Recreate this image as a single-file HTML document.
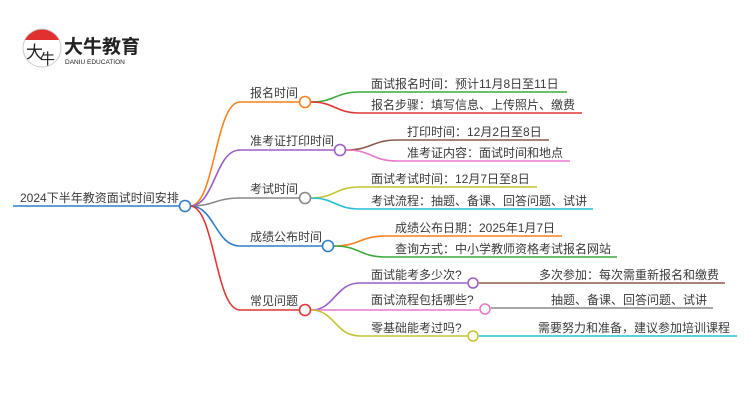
<!DOCTYPE html>
<html><head><meta charset="utf-8"><style>
html,body{margin:0;padding:0;background:#fff;}
svg{display:block;}
text{font-family:"Liberation Sans","Noto Sans CJK SC",sans-serif;fill:#3a3a3a;font-size:12px;}
</style></head><body>
<svg width="750" height="410" viewBox="0 0 750 410" xmlns="http://www.w3.org/2000/svg">
<circle cx="42" cy="48" r="19" fill="#fff" stroke="#ccc" stroke-width="1"/>
<path d="M25,40 A19,19 0 0 1 59,40 Z" fill="#e03030"/>
<text x="26" y="58" style="font-size:17px;fill:#222">大</text>
<text x="40" y="64" style="font-size:15px;fill:#222">牛</text>
<text x="64" y="53" style="font-size:19px;font-weight:bold;fill:#222">大牛教育</text>
<text x="65" y="64" style="font-size:6.5px;fill:#222">DANIU EDUCATION</text>

<g fill="none" stroke-width="1.6">
<line x1="13" y1="206" x2="180" y2="206" stroke="#2f7fc8"/>
<path d="M190,206 C215,206 215,102 240,102 L299,102" stroke="#f5821f"/>
<path d="M190,206 C215,206 215,150 240,150 L334,150" stroke="#9b5fc8"/>
<path d="M190,206 C215,206 215,198 240,198 L299,198" stroke="#888"/>
<path d="M190,206 C215,206 215,246 240,246 L322,246" stroke="#2f7fc8"/>
<path d="M190,206 C215,206 215,310 240,310 L299,310" stroke="#e03535"/>
<path d="M311,102 C335,102 335,92 360,92 L567,92" stroke="#3aab3a"/>
<path d="M311,102 C335,102 335,113 360,113 L582,113" stroke="#e03535"/>
<path d="M346,150 C372,150 372,140 397,140 L549,140" stroke="#8b5a4a"/>
<path d="M346,150 C372,150 372,161 397,161 L570,161" stroke="#e878c8"/>
<path d="M311,198 C335,198 335,187 360,187 L537,187" stroke="#c2c232"/>
<path d="M311,198 C335,198 335,209 360,209 L593,209" stroke="#22c0d8"/>
<path d="M334,246 C360,246 360,236 385,236 L562,236" stroke="#f5821f"/>
<path d="M334,246 C360,246 360,257 385,257 L617,257" stroke="#3aab3a"/>
<path d="M311,310 C335,310 335,283 360,283 L467,283" stroke="#9b5fc8"/>
<path d="M311,310 L479,310" stroke="#e878c8"/>
<path d="M311,310 C335,310 335,336 360,336 L467,336" stroke="#c2c232"/>
<line x1="479" y1="283" x2="725" y2="283" stroke="#8b5a4a"/>
<line x1="491" y1="308" x2="713" y2="308" stroke="#888"/>
<line x1="479" y1="336" x2="737" y2="336" stroke="#22c0d8"/>
</g>
<g fill="#fff" stroke-width="1.6">
<circle cx="185" cy="206" r="5.5" stroke="#2f7fc8"/>
<circle cx="305" cy="102" r="5.5" stroke="#f5821f"/>
<circle cx="340" cy="150" r="5.5" stroke="#9b5fc8"/>
<circle cx="305" cy="198" r="5.5" stroke="#888"/>
<circle cx="328" cy="246" r="5.5" stroke="#2f7fc8"/>
<circle cx="305" cy="310" r="5.5" stroke="#e03535"/>
<circle cx="473" cy="283" r="5" stroke="#9b5fc8"/>
<circle cx="485" cy="309" r="5" stroke="#e878c8"/>
<circle cx="473" cy="336" r="5" stroke="#c2c232"/>
</g>
<text x="20" y="202">2024下半年教资面试时间安排</text>
<text x="250" y="97">报名时间</text>
<text x="250" y="145">准考证打印时间</text>
<text x="250" y="193">考试时间</text>
<text x="250" y="241">成绩公布时间</text>
<text x="250" y="305">常见问题</text>
<text x="371" y="88">面试报名时间：预计11月8日至11日</text>
<text x="371" y="109">报名步骤：填写信息、上传照片、缴费</text>
<text x="407" y="136">打印时间：12月2日至8日</text>
<text x="407" y="157">准考证内容：面试时间和地点</text>
<text x="371" y="183">面试考试时间：12月7日至8日</text>
<text x="371" y="205">考试流程：抽题、备课、回答问题、试讲</text>
<text x="395" y="232">成绩公布日期：2025年1月7日</text>
<text x="395" y="253">查询方式：中小学教师资格考试报名网站</text>
<text x="371" y="279">面试能考多少次?</text>
<text x="371" y="304">面试流程包括哪些?</text>
<text x="371" y="332">零基础能考过吗?</text>
<text x="539" y="279">多次参加：每次需重新报名和缴费</text>
<text x="551" y="304">抽题、备课、回答问题、试讲</text>
<text x="538" y="332">需要努力和准备，建议参加培训课程</text>
</svg>
</body></html>
